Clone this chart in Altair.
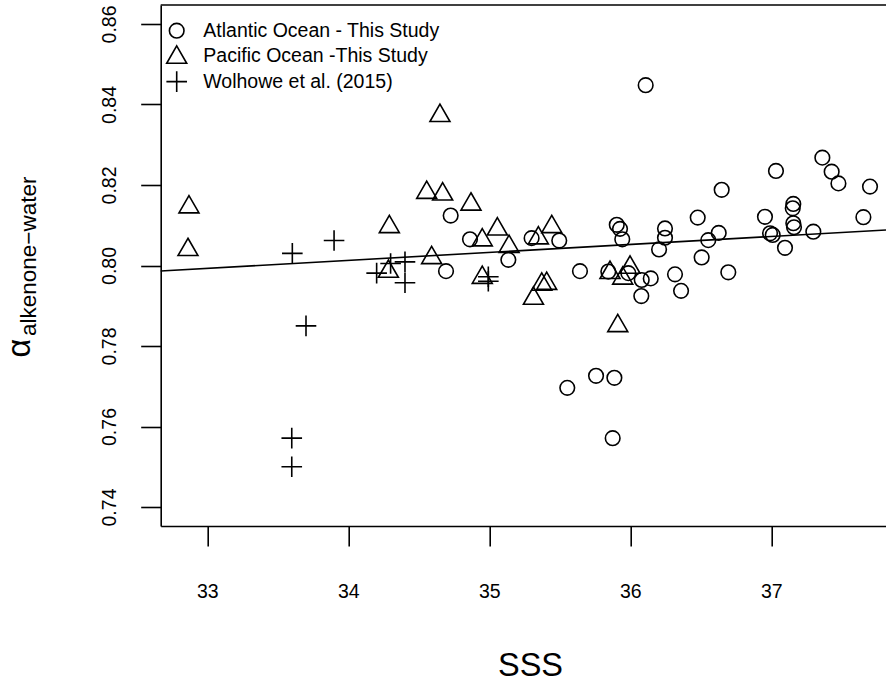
import altair as alt
import pandas as pd

# ---------------- data ----------------
atl_sss = [34.726, 34.863, 34.693, 35.135, 35.300, 35.496, 35.643, 35.904, 35.927, 35.943,
           35.844, 35.986, 36.081, 36.145, 36.078, 36.246, 36.246, 36.204, 36.317, 36.360,
           36.478, 36.553, 36.627, 36.648, 36.506, 36.695, 36.955, 36.991, 37.010, 37.033,
           37.156, 37.152, 37.156, 37.161, 37.097, 37.298, 37.362, 37.428, 37.476, 37.700,
           37.653, 36.109, 35.553, 35.757, 35.887, 35.875]
atl_alpha = [0.8124, 0.8065, 0.7986, 0.8014, 0.8068, 0.8062, 0.7986, 0.8101, 0.8091, 0.8065,
             0.7985, 0.7981, 0.7964, 0.7968, 0.7924, 0.8092, 0.8069, 0.8040, 0.7978, 0.7937,
             0.8119, 0.8063, 0.8081, 0.8188, 0.8020, 0.7983, 0.8121, 0.8080, 0.8076, 0.8235,
             0.8153, 0.8142, 0.8105, 0.8095, 0.8044, 0.8084, 0.8268, 0.8233, 0.8204, 0.8196,
             0.8120, 0.8448, 0.7696, 0.7726, 0.7721, 0.7571]

pac_sss = [32.870, 32.863, 34.291, 34.284, 34.556, 34.669, 34.650, 34.870, 35.057, 34.950,
           35.140, 34.591, 34.950, 35.348, 35.443, 35.313, 35.372, 35.407, 35.856, 35.998,
           35.946, 35.911]
pac_alpha = [0.8145, 0.8039, 0.8096, 0.7985, 0.8181, 0.8177, 0.8372, 0.8152, 0.8090, 0.8063,
             0.8047, 0.8019, 0.7970, 0.8068, 0.8096, 0.7918, 0.7953, 0.7955, 0.7982, 0.7995,
             0.7968, 0.7850]

wol_sss = [33.603, 33.899, 33.700, 33.599, 33.599, 34.201, 34.300, 34.402, 34.402, 34.993, 34.993]
wol_alpha = [0.8030, 0.8062, 0.7850, 0.7571, 0.7500, 0.7981, 0.8005, 0.8009, 0.7957, 0.7972, 0.7961]

series_names = ["Atlantic Ocean - This Study", "Pacific Ocean -This Study", "Wolhowe et al. (2015)"]

fit_sss = [32.6695, 37.8134]
fit_alpha = [0.79864, 0.80882]

x_ticks = [33, 34, 35, 36, 37]
y_ticks = [0.74, 0.76, 0.78, 0.80, 0.82, 0.84, 0.86]

x_title = "SSS"
y_title_main = "α"
y_title_sub = "alkenone−water"

# ---------------- styling ----------------
FONT = "Liberation Sans"
W, H = 725.3, 521
X_DOMAIN = [32.6695, 37.8134]
Y_DOMAIN = [0.73528, 0.86472]
LW = 1.6

TRI = "M0,-1.155L1,0.577L-1,0.577Z"
PLUS = "M-1.03,0L1.03,0M0,-1.03L0,1.03"
shapes = ["circle", TRI, PLUS]
sizes = [213, 400, 400]

xscale = alt.Scale(domain=X_DOMAIN, nice=False, zero=False)
yscale = alt.Scale(domain=Y_DOMAIN, nice=False, zero=False)

x_axis = alt.Axis(values=x_ticks, format="d", tickSize=20, tickWidth=LW, tickColor="black",
                  domainWidth=LW, domainColor="black", grid=False,
                  labelFont=FONT, labelFontSize=19.5, labelColor="black",
                  labelBaseline="alphabetic", labelPadding=51.3, labelFlush=False,
                  labelOverlap=False,
                  title=x_title, titleFont=FONT, titleFontSize=32.5, titleFontWeight="normal",
                  titleColor="black", titleX=369.3, titleY=149, titleBaseline="alphabetic",
                  titleAlign="center")
y_axis = alt.Axis(values=y_ticks, format=".2f", tickSize=20, tickWidth=LW, tickColor="black",
                  domainWidth=LW, domainColor="black", grid=False,
                  labelFont=FONT, labelFontSize=19.5, labelColor="black",
                  labelAngle=270, labelAlign="center", labelBaseline="alphabetic",
                  labelPadding=25.7, labelFlush=False, labelOverlap=False, title=None)

frames = [
    pd.DataFrame({"sss": atl_sss, "alpha": atl_alpha}),
    pd.DataFrame({"sss": pac_sss, "alpha": pac_alpha}),
    pd.DataFrame({"sss": wol_sss, "alpha": wol_alpha}),
]

layers = []
# regression line
line = alt.Chart(pd.DataFrame({"sss": fit_sss, "alpha": fit_alpha})).mark_line(
    color="black", strokeWidth=LW
).encode(
    x=alt.X("sss:Q", scale=xscale, axis=x_axis),
    y=alt.Y("alpha:Q", scale=yscale, axis=y_axis),
)
layers.append(line)

for i, df in enumerate(frames):
    layers.append(
        alt.Chart(df).mark_point(shape=shapes[i], size=sizes[i], filled=False, color="black",
                                 strokeWidth=LW, opacity=1).encode(
            x=alt.X("sss:Q", scale=xscale),
            y=alt.Y("alpha:Q", scale=yscale),
        )
    )

# top border
layers.append(
    alt.Chart(pd.DataFrame({"a": [0]})).mark_rule(color="black", strokeWidth=LW).encode(
        x=alt.value(0), x2=alt.value(W), y=alt.value(0)
    )
)

# legend (drawn manually, R style)
leg_y = [25.7, 51.0, 76.6]
for i, name in enumerate(series_names):
    ldf = pd.DataFrame({"label": [name]})
    layers.append(
        alt.Chart(ldf).mark_point(shape=shapes[i], size=sizes[i], filled=False, color="black",
                                  strokeWidth=LW, opacity=1).encode(
            x=alt.value(16), y=alt.value(leg_y[i] + (1.5 if i == 1 else 0))
        )
    )
    layers.append(
        alt.Chart(ldf).mark_text(align="left", baseline="middle", font=FONT, fontSize=19.5,
                                 color="black").encode(
            x=alt.value(42.6), y=alt.value(leg_y[i]), text="label:N"
        )
    )

# y-axis title: alpha with subscript
layers.append(
    alt.Chart(pd.DataFrame({"t": [y_title_main]})).mark_text(
        angle=270, align="left", baseline="alphabetic", font=FONT, fontSize=32.5, color="black"
    ).encode(x=alt.value(-130.7), y=alt.value(352.5), text="t:N")
)
layers.append(
    alt.Chart(pd.DataFrame({"t": [y_title_sub]})).mark_text(
        angle=270, align="left", baseline="alphabetic", font=FONT, fontSize=22.5, color="black"
    ).encode(x=alt.value(-125.2), y=alt.value(331), text="t:N")
)

chart = alt.layer(*layers).properties(
    width=W, height=H,
    autosize=alt.AutoSizeParams(type="none"),
    padding={"left": 160.7, "top": 5, "right": 0, "bottom": 155},
    background="white",
).configure_view(stroke=None)

chart.save("out.html", embed_options={"renderer": "svg", "actions": False})
